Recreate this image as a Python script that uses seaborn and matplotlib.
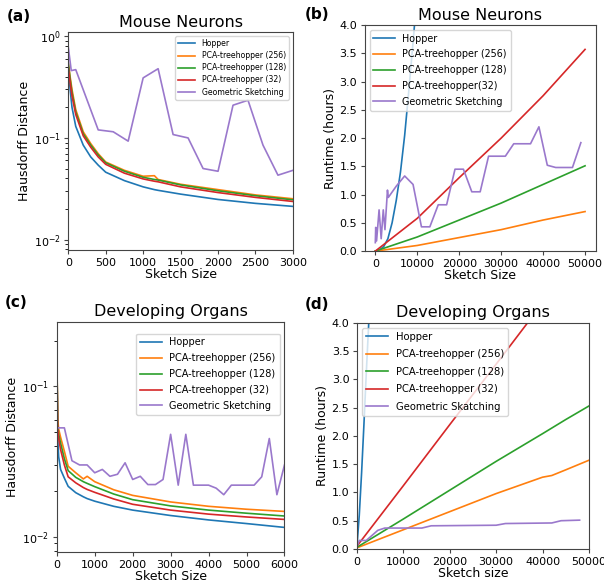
import numpy as np
import pandas as pd
import seaborn as sns
import matplotlib.pyplot as plt

# ---- (a) Mouse Neurons, Hausdorff distance ----
a_x = [0, 25, 50, 100, 200, 300, 400, 500, 750, 1000, 1150, 1200, 1500, 2000, 2500, 3000]
a_hopper = [0.50, 0.30, 0.20, 0.13, 0.085, 0.065, 0.054, 0.046, 0.038, 0.033, 0.031, 0.0305, 0.028, 0.0248, 0.0227, 0.0212]
a_pca256 = [0.55, 0.40, 0.30, 0.19, 0.115, 0.088, 0.070, 0.058, 0.048, 0.042, 0.0425, 0.039, 0.035, 0.031, 0.0275, 0.0252]
a_pca128 = [0.55, 0.38, 0.28, 0.18, 0.110, 0.085, 0.068, 0.057, 0.047, 0.041, 0.039, 0.0385, 0.0345, 0.0302, 0.027, 0.0246]
a_pca32 = [0.50, 0.35, 0.26, 0.17, 0.105, 0.081, 0.065, 0.055, 0.045, 0.0395, 0.0375, 0.037, 0.033, 0.029, 0.026, 0.0237]
a_geo_x = [0, 40, 100, 400, 600, 800, 1000, 1200, 1400, 1600, 1800, 2000, 2200, 2400, 2600, 2800, 3000]
a_geo = [0.79, 0.46, 0.47, 0.12, 0.115, 0.093, 0.39, 0.48, 0.108, 0.10, 0.050, 0.047, 0.21, 0.235, 0.085, 0.043, 0.048]

# ---- (b) Mouse Neurons, runtime ----
b_hop_x = [0, 1000, 2000, 3000, 4000, 5000, 6000, 7000, 8000, 9000, 9400]
b_hopper = [0.0, 0.02, 0.08, 0.22, 0.50, 0.90, 1.40, 2.05, 2.85, 3.70, 4.05]
b_x = [0, 10000, 20000, 30000, 40000, 50000]
b_pca256 = [0.0, 0.10, 0.24, 0.38, 0.55, 0.70]
b_pca128 = [0.0, 0.25, 0.55, 0.85, 1.18, 1.51]
b_pca32 = [0.0, 0.58, 1.30, 2.00, 2.75, 3.57]
b_geo_x = [0, 100, 300, 900, 1400, 1900, 2300, 2900, 3100, 5000, 7000, 9000, 11000, 13000,
           15000, 17000, 19000, 21000, 23000, 25000, 27000, 29000, 31000, 33000, 35000,
           37000, 39000, 41000, 43000, 45000, 47000, 49000]
b_geo = [0.15, 0.42, 0.18, 0.73, 0.22, 0.73, 0.38, 1.08, 0.95, 1.15, 1.33, 1.18, 0.43, 0.43,
         0.82, 0.82, 1.45, 1.45, 1.05, 1.05, 1.68, 1.68, 1.68, 1.90, 1.90,
         1.90, 2.20, 1.52, 1.48, 1.48, 1.48, 1.92]

# ---- (c) Developing Organs, Hausdorff distance ----
c_x = [0, 25, 50, 100, 200, 300, 500, 700, 800, 1000, 1500, 2000, 3000, 4000, 5000, 6000]
c_hopper = [0.17, 0.045, 0.034, 0.028, 0.0245, 0.0216, 0.0196, 0.0184, 0.0179, 0.0172, 0.0159, 0.0150, 0.0138, 0.0129, 0.0122, 0.0115]
c_pca256 = [0.17, 0.060, 0.052, 0.046, 0.037, 0.0294, 0.0266, 0.0242, 0.0252, 0.0232, 0.0205, 0.0188, 0.0170, 0.0159, 0.0152, 0.0147]
c_pca128 = [0.17, 0.055, 0.048, 0.042, 0.033, 0.0275, 0.0248, 0.0232, 0.0226, 0.0215, 0.0192, 0.0176, 0.0160, 0.0150, 0.0143, 0.0137]
c_pca32 = [0.17, 0.052, 0.045, 0.038, 0.030, 0.0250, 0.0228, 0.0212, 0.0206, 0.0197, 0.0178, 0.0164, 0.0150, 0.0141, 0.0135, 0.0130]
c_geo_x = [0, 200, 400, 600, 800, 1000, 1200, 1400, 1600, 1800, 2000, 2200, 2400, 2600, 2800,
           3000, 3200, 3400, 3600, 3800, 4000, 4200, 4400, 4600, 4800, 5000, 5200, 5400,
           5600, 5800, 6000]
c_geo = [0.053, 0.053, 0.032, 0.030, 0.030, 0.0266, 0.028, 0.0252, 0.026, 0.031, 0.024, 0.0252,
         0.0222, 0.0222, 0.024, 0.048, 0.022, 0.048, 0.022, 0.022, 0.022, 0.021, 0.019,
         0.022, 0.022, 0.022, 0.022, 0.025, 0.045, 0.019, 0.030]

# ---- (d) Developing Organs, runtime ----
d_hop_x = [0, 500, 1000, 1500, 2000, 2600]
d_hopper = [0.05, 0.60, 1.35, 2.20, 3.10, 4.10]
d_x = [0, 10000, 20000, 30000, 40000, 42000, 45000, 50000]
d_pca256 = [0.02, 0.34, 0.66, 0.98, 1.27, 1.30, 1.40, 1.57]
d_pca128 = [0.03, 0.53, 1.04, 1.55, 2.04, 2.14, 2.29, 2.53]
d_pca32 = [0.05, 1.12, 2.20, 3.27, 4.35, 4.56, 4.88, 5.43]
d_geo_x = [0, 500, 2000, 4500, 6000, 14000, 16000, 30000, 32000, 42000, 44000, 48000]
d_geo = [0.05, 0.15, 0.15, 0.33, 0.37, 0.37, 0.41, 0.42, 0.45, 0.46, 0.50, 0.51]

methods = ["Hopper", "PCA-treehopper (256)", "PCA-treehopper (128)",
           "PCA-treehopper (32)", "Geometric Sketching"]
colors = ["#1f77b4", "#ff7f0e", "#2ca02c", "#d62728", "#9a78cc"]


def long_df(series, names):
    parts = []
    for (x, y), name in zip(series, names):
        parts.append(pd.DataFrame({"size": x, "value": y, "method": name}))
    return pd.concat(parts, ignore_index=True)


def draw(ax, df, names, legend_fs, spacing, **legend_kw):
    sns.lineplot(data=df, x="size", y="value", hue="method", hue_order=names,
                 palette=dict(zip(names, colors)), estimator=None, sort=False,
                 linewidth=1.2, ax=ax)
    ax.legend(fontsize=legend_fs, handlelength=2.2, labelspacing=spacing,
              borderpad=0.4, **legend_kw)
    for s in ax.spines.values():
        s.set_color("#444444")
        s.set_linewidth(0.8)
    ax.tick_params(labelsize=8, color="#444444", length=3, pad=2.5)


fig = plt.figure(figsize=(6.04, 5.84), dpi=100)
ax_a = fig.add_axes([0.113, 0.572, 0.372, 0.373])
ax_b = fig.add_axes([0.604, 0.570, 0.382, 0.387])
ax_c = fig.add_axes([0.094, 0.055, 0.377, 0.394])
ax_d = fig.add_axes([0.591, 0.060, 0.384, 0.387])

# (a)
df_a = long_df([(a_x, a_hopper), (a_x, a_pca256), (a_x, a_pca128), (a_x, a_pca32),
                (a_geo_x, a_geo)], methods)
draw(ax_a, df_a, methods, 5.6, 0.4, loc="upper right")
ax_a.set_yscale("log")
ax_a.set_ylim(0.0079, 1.1)
ax_a.set_xlim(0, 3000)
ax_a.set_xticks([0, 500, 1000, 1500, 2000, 2500, 3000])
ax_a.set_title("Mouse Neurons", fontsize=11.5, pad=4)
ax_a.set_xlabel("Sketch Size", fontsize=9, labelpad=0)
ax_a.set_ylabel("Hausdorff Distance", fontsize=9, labelpad=2)

# (b)
names_b = ["Hopper", "PCA-treehopper (256)", "PCA-treehopper (128)",
           "PCA-treehopper(32)", "Geometric Sketching"]
df_b = long_df([(b_hop_x, b_hopper), (b_x, b_pca256), (b_x, b_pca128), (b_x, b_pca32),
                (b_geo_x, b_geo)], names_b)
draw(ax_b, df_b, names_b, 6.9, 0.6, loc="upper left")
ax_b.set_ylim(0, 4.0)
ax_b.set_xlim(-2500, 52500)
ax_b.set_xticks([0, 10000, 20000, 30000, 40000, 50000])
ax_b.set_title("Mouse Neurons", fontsize=11.5, pad=4)
ax_b.set_xlabel("Sketch Size", fontsize=9, labelpad=0)
ax_b.set_ylabel("Runtime (hours)", fontsize=9, labelpad=2)

# (c)
df_c = long_df([(c_x, c_hopper), (c_x, c_pca256), (c_x, c_pca128), (c_x, c_pca32),
                (c_geo_x, c_geo)], methods)
draw(ax_c, df_c, methods, 7.0, 0.6, loc="upper right", bbox_to_anchor=(1.0, 0.97))
ax_c.set_yscale("log")
ax_c.set_ylim(0.0079, 0.27)
ax_c.set_xlim(0, 6000)
ax_c.set_title("Developing Organs", fontsize=11.5, pad=4)
ax_c.set_xlabel("Sketch Size", fontsize=9, labelpad=0)
ax_c.set_ylabel("Hausdorff Distance", fontsize=9, labelpad=2)

# (d)
names_d = ["Hopper", "PCA-treehopper (256)", "PCA-treehopper (128)",
           "PCA-treehopper (32)", "Geometric Skatching"]
df_d = long_df([(d_hop_x, d_hopper), (d_x, d_pca256), (d_x, d_pca128), (d_x, d_pca32),
                (d_geo_x, d_geo)], names_d)
draw(ax_d, df_d, names_d, 7.2, 0.75, loc="upper left")
ax_d.set_ylim(0, 4.0)
ax_d.set_xlim(0, 50000)
ax_d.set_title("Developing Organs", fontsize=11.5, pad=4)
ax_d.set_xlabel("Sketch size", fontsize=9, labelpad=0)
ax_d.set_ylabel("Runtime (hours)", fontsize=9, labelpad=2)

for lab, (x, y) in zip(["(a)", "(b)", "(c)", "(d)"],
                       [(0.012, 0.972), (0.505, 0.975), (0.008, 0.482), (0.505, 0.478)]):
    fig.text(x, y, lab, fontsize=11, fontweight="semibold", va="center")

fig.savefig("out.png", dpi=100)
